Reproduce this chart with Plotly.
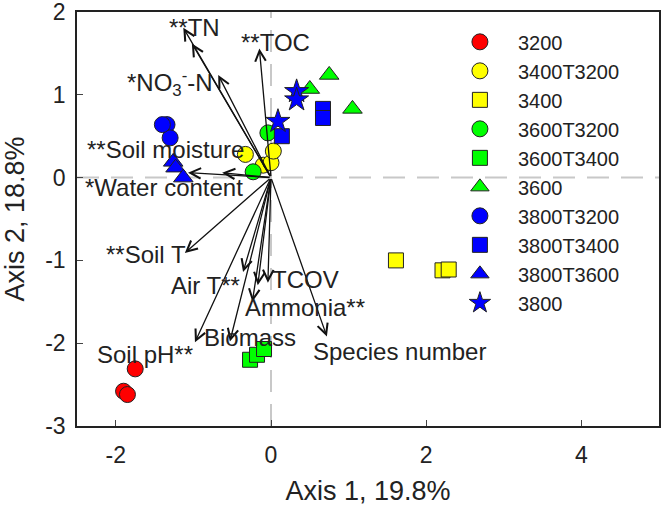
import plotly.graph_objects as go

# ---- data ----
groups = ["3200", "3400T3200", "3400", "3600T3200", "3600T3400", "3600",
          "3800T3200", "3800T3400", "3800T3600", "3800"]
group_colors = ["#FF0000", "#FFFF00", "#FFFF00", "#00FF00", "#00FF00", "#00FF00",
                "#0000FF", "#0000FF", "#0000FF", "#0000FF"]
group_symbols = ["circle", "circle", "square", "circle", "square", "triangle-up",
                 "circle", "square", "triangle-up", "star"]
group_x = [
    [-1.75, -1.90, -1.85],
    [-0.33, -0.10, 0.00, 0.03],
    [1.61, 2.21, 2.29],
    [-0.04, -0.23],
    [-0.27, -0.18, -0.09],
    [0.75, 0.50, 1.05],
    [-1.34, -1.30, -1.40],
    [0.67, 0.67, 0.14],
    [-1.26, -1.23, -1.13],
    [0.33, 0.33, 0.09],
]
group_y = [
    [-2.31, -2.58, -2.62],
    [0.28, 0.15, 0.18, 0.32],
    [-1.00, -1.12, -1.11],
    [0.54, 0.07],
    [-2.20, -2.14, -2.07],
    [1.24, 1.07, 0.83],
    [0.64, 0.48, 0.64],
    [0.83, 0.72, 0.50],
    [0.19, 0.12, 0.00],
    [1.04, 0.94, 0.68],
]

# environmental vectors (arrow tips, from origin)
arrow_x = [-1.13, -1.02, -0.68, -0.15, -1.07, -0.63, -1.11, -0.98, -0.53, -0.36, -0.24, -0.04, -0.17, 0.72]
arrow_y = [1.81, 1.62, 1.24, 1.56, 0.06, 0.06, -0.91, -1.99, -1.98, -1.14, -1.50, -1.27, -1.30, -1.92]

# vector labels and their anchor points
label_text = ["**TN", "**TOC", "*NO<sub>3</sub><sup>-</sup>-N", "**Soil moisture",
              "*Water content", "**Soil T", "Air T**", "TCOV", "Ammonia**",
              "Biomass", "Soil pH**", "Species number"]
label_x = [-0.98, 0.06, -1.30, -1.36, -1.38, -1.61, -0.84, 0.44, 0.44, -0.27, -1.62, 1.66]
label_y = [1.81, 1.63, 1.14, 0.34, -0.12, -0.93, -1.30, -1.23, -1.57, -1.93, -2.14, -2.10]

x_ticks = [-2, 0, 2, 4]
x_ticktext = ["-2", "0", "2", "4"]
y_ticks = [-3, -2, -1, 0, 1, 2]
y_ticktext = ["-3", "-2", "-1", "0", "1", "2"]

FONT = "Arial, Liberation Sans, sans-serif"
fig = go.Figure()

for g, c, s, xs, ys in zip(groups, group_colors, group_symbols, group_x, group_y):
    size = 16
    if s == "square":
        size = 15
    elif s == "star":
        size = 18
    elif s == "triangle-up":
        size = 17
    fig.add_trace(go.Scatter(
        x=xs, y=ys, mode="markers", name=g,
        marker=dict(symbol=s, color=c, size=size, line=dict(color="#222222", width=1)),
    ))

# zero reference lines
fig.add_shape(type="line", xref="x", yref="paper", x0=0, x1=0, y0=0, y1=1,
              line=dict(color="#C8C8C8", width=2, dash="22px,12px"), layer="below")
fig.add_shape(type="line", xref="paper", yref="y", x0=0, x1=1, y0=0, y1=0,
              line=dict(color="#C8C8C8", width=2, dash="22px,12px"), layer="below")

for ex, ey in zip(arrow_x, arrow_y):
    fig.add_annotation(x=ex, y=ey, ax=0, ay=0, xref="x", yref="y", axref="x", ayref="y",
                       text="", showarrow=True, arrowhead=5, arrowsize=1.6, arrowwidth=1.3,
                       arrowcolor="#111111")

for t, lx, ly in zip(label_text, label_x, label_y):
    fig.add_annotation(x=lx, y=ly, xref="x", yref="y", text=t, showarrow=False,
                       font=dict(family=FONT, size=24, color="#222222"))

fig.update_layout(
    width=662, height=506,
    margin=dict(l=77, r=3, t=12, b=80),
    paper_bgcolor="white", plot_bgcolor="white",
    font=dict(family=FONT, size=23, color="#222222"),
    showlegend=True,
    legend=dict(x=0.627, y=0.975, xanchor="left", yanchor="top",
                bgcolor="rgba(0,0,0,0)", font=dict(size=20, family=FONT, color="#222222"),
                tracegroupgap=0, itemwidth=66),
)
fig.update_xaxes(range=[-2.5, 5], tickvals=x_ticks, ticktext=x_ticktext,
                 ticks="inside", ticklen=6, automargin=False, ticklabeloverflow="allow",
                 showline=True, linecolor="#222222", linewidth=1.5, mirror=True,
                 showgrid=False, zeroline=False, ticklabelstandoff=8,
                 title=dict(text="Axis 1, 19.8%", font=dict(size=27), standoff=18))
fig.update_yaxes(range=[-3, 2], tickvals=y_ticks, ticktext=y_ticktext,
                 ticks="inside", ticklen=6, automargin=False, ticklabeloverflow="allow",
                 showline=True, linecolor="#222222", linewidth=1.5, mirror=True,
                 showgrid=False, zeroline=False, ticklabelstandoff=5,
                 title=dict(text="Axis 2, 18.8%", font=dict(size=27), standoff=14))

fig.write_html("out.html", config={"displayModeBar": False},
               post_script="document.body.style.margin='0';")
